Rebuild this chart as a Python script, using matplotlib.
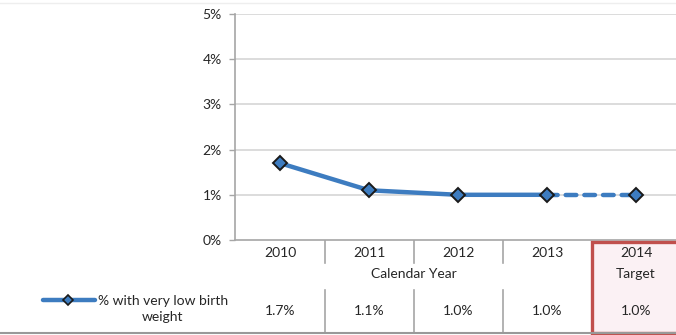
import matplotlib
matplotlib.use("Agg")
import matplotlib.pyplot as plt
from matplotlib.patches import Rectangle
from matplotlib.lines import Line2D

# データ
years = ["2010", "2011", "2012", "2013", "2014"]
values = [1.7, 1.1, 1.0, 1.0, 1.0]
value_labels = ["1.7%", "1.1%", "1.0%", "1.0%", "1.0%"]
y_ticks = [0, 1, 2, 3, 4, 5]
y_tick_labels = ["0%", "1%", "2%", "3%", "4%", "5%"]
series_name = "% with very low birth\nweight"

plt.rcParams["font.family"] = ["Lato", "DejaVu Sans"]

W, H = 676, 335
fig = plt.figure(figsize=(W / 100, H / 100), dpi=100)

blue = "#3d7cc0"
grey = "#a6a6a6"
txt = "#262626"
fs = 10

# グラフ本体
left_px, right_px, top_px, bottom_px = 235.5, 680.5, 14, 240
ax = fig.add_axes([left_px / W, 1 - bottom_px / H, (right_px - left_px) / W, (bottom_px - top_px) / H])
ax.set_xlim(-0.5, 4.5)
ax.set_ylim(0, 5)
x = list(range(len(years)))
ax.plot(x[:4], values[:4], color=blue, lw=3.2, solid_capstyle="round", zorder=3)
ax.plot(x[3:], values[3:], color=blue, lw=3.2, dashes=(2.4, 1.8), dash_capstyle="round", zorder=3)
ax.plot(x, values, ls="none", marker="D", ms=7.2, mfc=blue, mec="#1a1a1a", mew=1.4, zorder=4)

ax.set_yticks(y_ticks)
ax.set_yticklabels(y_tick_labels, fontsize=fs, color=txt)
ax.set_xticks([])
ax.tick_params(axis="y", length=4, width=1, color=grey, pad=6)
for y in y_ticks[1:]:
    ax.axhline(y, color="#d9d9d9", lw=1.3, zorder=1)
for s in ["top", "right"]:
    ax.spines[s].set_visible(False)
ax.spines["left"].set_color(grey)
ax.spines["left"].set_linewidth(1.2)
ax.spines["bottom"].set_color(grey)
ax.spines["bottom"].set_linewidth(1.2)
ax.patch.set_alpha(0)

# データテーブル
unit = (right_px - left_px) / 5
tx = fig.add_axes([0, 0, right_px / W, (H - bottom_px) / H])
tx.set_xlim(-0.5 - left_px / unit, 4.5)
tx.set_ylim(H - bottom_px, 0)
tx.axis("off")

tx.add_patch(Rectangle((3.5, 1.8), 1.2, 91.2, facecolor="#fbf1f4", edgecolor="#c0504d", lw=2.4, zorder=2))
for xs in [0.5, 1.5, 2.5]:
    tx.plot([xs, xs], [0, 23], color=grey, lw=1.2)
    tx.plot([xs, xs], [50, 93], color=grey, lw=1.2)

for i, yr in enumerate(years):
    tx.text(i, 13, yr, ha="center", va="center", fontsize=fs, color=txt, zorder=3)
    tx.text(i, 71, value_labels[i], ha="center", va="center", fontsize=fs, color=txt, zorder=3)
tx.text(1.5, 34, "Calendar Year", ha="center", va="center", fontsize=fs, color=txt)
tx.text(4, 34, "Target", ha="center", va="center", fontsize=fs, color=txt, zorder=3)

# 凡例
def px(p):
    return -0.5 - (left_px - p) / unit

tx.plot([px(43), px(95)], [60, 60], color=blue, lw=3.2, solid_capstyle="round")
tx.plot([px(68)], [60], ls="none", marker="D", ms=5.5, mfc=blue, mec="#1a1a1a", mew=1.2)
tx.text(px(163), 69, series_name, ha="center", va="center", fontsize=fs, color=txt, multialignment="center", linespacing=1.35)

# 枠線
fig.add_artist(Line2D([0, 1], [1 - 3 / H, 1 - 3 / H], color="#eeeeee", lw=1))
fig.add_artist(Line2D([0, 1], [2 / H, 2 / H], color="#999999", lw=1.5, zorder=5))

fig.savefig("out.png", dpi=100)
